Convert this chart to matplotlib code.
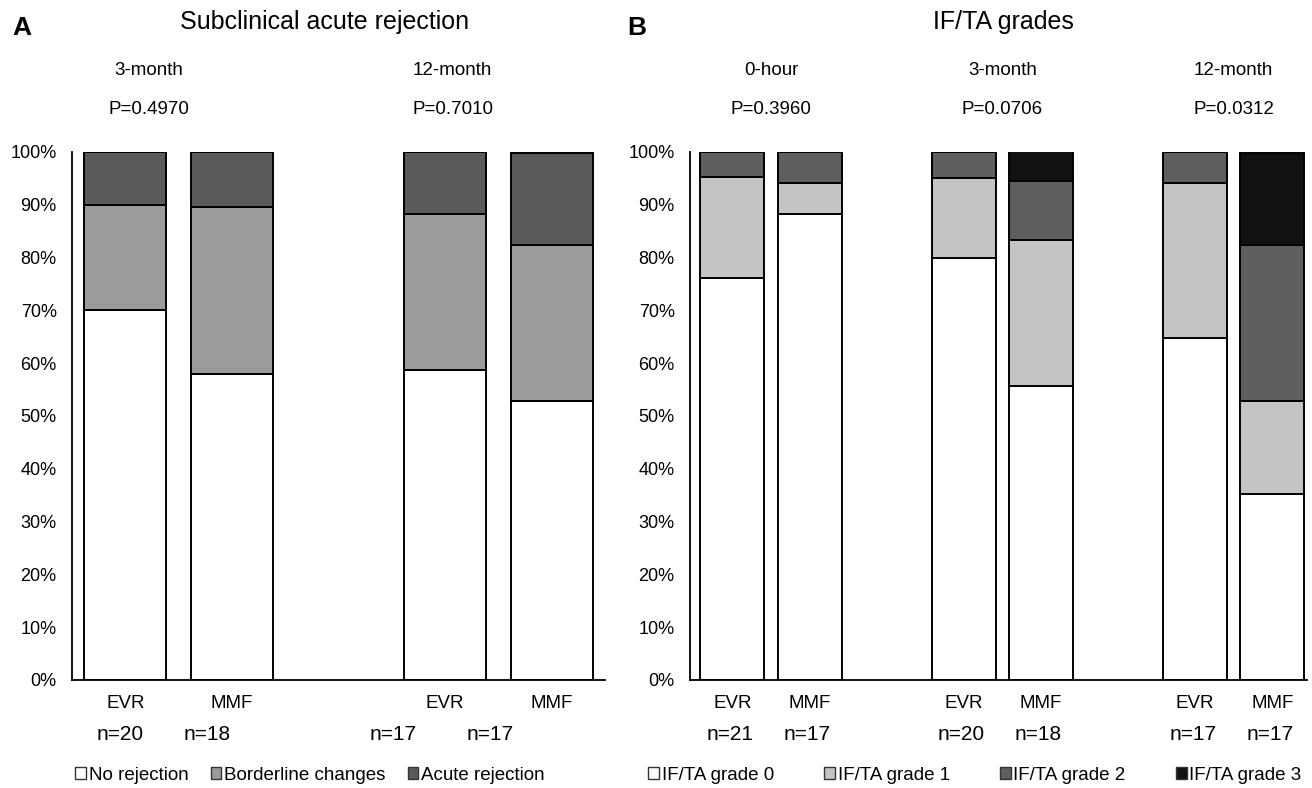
import numpy as np
import matplotlib.pyplot as plt
from matplotlib.patches import Patch

plt.rcParams['font.family'] = ['Liberation Sans', 'DejaVu Sans']

# Panel A data: subclinical acute rejection (%)
a_pos = [0, 1, 3, 4]
a_groups = ['EVR', 'MMF', 'EVR', 'MMF']
a_n = ['n=20', 'n=18', 'n=17', 'n=17']
a_times = ['3-month', '12-month']
a_pvals = ['P=0.4970', 'P=0.7010']
a_labels = ['No rejection', 'Borderline changes', 'Acute rejection']
a_no_rej = [70.0, 57.9, 58.8, 52.9]
a_border = [20.0, 31.6, 29.4, 29.4]
a_acute = [10.0, 10.5, 11.8, 17.6]
a_colors = ['#ffffff', '#9b9b9b', '#5a5a5a']

# Panel B data: IF/TA grades (%)
b_pos = [0, 1, 3, 4, 6, 7]
b_groups = ['EVR', 'MMF', 'EVR', 'MMF', 'EVR', 'MMF']
b_n = ['n=21', 'n=17', 'n=20', 'n=18', 'n=17', 'n=17']
b_times = ['0-hour', '3-month', '12-month']
b_pvals = ['P=0.3960', 'P=0.0706', 'P=0.0312']
b_labels = ['IF/TA grade 0', 'IF/TA grade 1', 'IF/TA grade 2', 'IF/TA grade 3']
b_g0 = [76.2, 88.2, 80.0, 55.6, 64.7, 35.3]
b_g1 = [19.0, 5.9, 15.0, 27.8, 29.4, 17.6]
b_g2 = [4.8, 5.9, 5.0, 11.1, 5.9, 29.4]
b_g3 = [0.0, 0.0, 0.0, 5.6, 0.0, 17.6]
b_colors = ['#ffffff', '#c4c4c4', '#5e5e5e', '#111111']

fig = plt.figure(figsize=(13.12, 7.88), dpi=100)
H = 788.0
W = 1312.0
FS = 13.5


def setup_axis(ax):
    ax.set_ylim(0, 100)
    ax.set_yticks(np.arange(0, 101, 10))
    ax.set_yticklabels(['%d%%' % v for v in range(0, 101, 10)], fontsize=13)
    ax.set_xticks([])
    ax.tick_params(axis='y', length=0, pad=11)
    for s in ['top', 'right']:
        ax.spines[s].set_visible(False)
    for s in ['left', 'bottom']:
        ax.spines[s].set_linewidth(1.3)
    ax.patch.set_alpha(0)


def stack(ax, pos, series, colors, width):
    bottom = np.zeros(len(pos))
    for vals, c in zip(series, colors):
        vals = np.array(vals)
        ax.bar(pos, vals, width, bottom=bottom, color=c, edgecolor='black',
               linewidth=1.4)
        bottom += vals


# ---- Panel A
axA = fig.add_axes([72 / W, (H - 680) / H, (605 - 72) / W, 528 / H])
setup_axis(axA)
axA.set_xlim(-0.5, 4.5)
stack(axA, a_pos, [a_no_rej, a_border, a_acute], a_colors, 0.77)
for p, g in zip(a_pos, a_groups):
    axA.text(p, -4.5, g, ha='center', va='center', fontsize=FS)
a_n_x = [-0.05, 0.77, 2.51, 3.42]
for x, n in zip(a_n_x, a_n):
    axA.text(x, -10.3, n, ha='center', va='center', fontsize=15)
a_head_x = [0.22, 3.07]
for x, t, pv in zip(a_head_x, a_times, a_pvals):
    axA.text(x, 115.5, t, ha='center', va='center', fontsize=FS)
    axA.text(x, 108.0, pv, ha='center', va='center', fontsize=FS)
fig.text(325 / W, 1 - 22 / H, 'Subclinical acute rejection', ha='center',
         va='center', fontsize=18)
fig.text(12 / W, 1 - 28 / H, 'A', ha='left', va='center', fontsize=19,
         fontweight='bold')
handlesA = [Patch(facecolor=c, edgecolor='#333333', linewidth=1) for c in a_colors]
fig.legend(handlesA, a_labels, loc='center', bbox_to_anchor=(310 / W, 1 - 775 / H),
           ncol=3, frameon=False, fontsize=FS, handlelength=0.55,
           handleheight=0.55, handletextpad=0.15, columnspacing=1.2)

# ---- Panel B
axB = fig.add_axes([690 / W, (H - 680) / H, (1307 - 690) / W, 528 / H])
setup_axis(axB)
axB.set_xlim(-0.55, 7.45)
stack(axB, b_pos, [b_g0, b_g1, b_g2, b_g3], b_colors, 0.83)
for p, g in zip(b_pos, b_groups):
    axB.text(p, -4.5, g, ha='center', va='center', fontsize=FS)
for p, n in zip(b_pos, b_n):
    axB.text(p - 0.03, -10.3, n, ha='center', va='center', fontsize=15)
for i, (t, pv) in enumerate(zip(b_times, b_pvals)):
    x = b_pos[2 * i] + 0.5
    axB.text(x, 115.5, t, ha='center', va='center', fontsize=FS)
    axB.text(x, 108.0, pv, ha='center', va='center', fontsize=FS)
fig.text(1003 / W, 1 - 22 / H, 'IF/TA grades', ha='center', va='center',
         fontsize=18)
fig.text(627 / W, 1 - 28 / H, 'B', ha='left', va='center', fontsize=19,
         fontweight='bold')
handlesB = [Patch(facecolor=c, edgecolor='#333333', linewidth=1) for c in b_colors]
fig.legend(handlesB, b_labels, loc='center', bbox_to_anchor=(975 / W, 1 - 775 / H),
           ncol=4, frameon=False, fontsize=FS, handlelength=0.55,
           handleheight=0.55, handletextpad=0.15, columnspacing=2.7)

fig.savefig('out.png', dpi=100)
